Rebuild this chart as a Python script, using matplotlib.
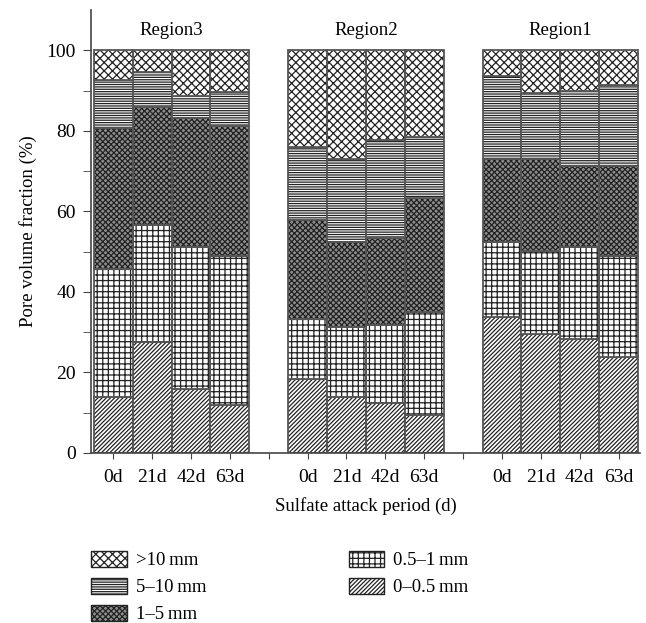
import matplotlib.pyplot as plt
from matplotlib.patches import Patch
import numpy as np

plt.rcParams['font.family'] = ['Liberation Serif', 'DejaVu Serif']
plt.rcParams['hatch.linewidth'] = 0.9

regions = ['Region3', 'Region2', 'Region1']
periods = ['0d', '21d', '42d', '63d']
classes = ['0\u20130.5\u2009mm', '0.5\u20131\u2009mm', '1\u20135\u2009mm', '5\u201310\u2009mm', '>10\u2009mm']

# segment fractions (%) per bar, order: Region3 0d..63d, Region2 0d..63d, Region1 0d..63d
frac_0_05 = [14.0, 27.6, 15.9, 12.0, 18.3, 14.0, 12.3, 9.4, 33.7, 29.5, 28.3, 23.9]
frac_05_1 = [31.6, 29.1, 35.3, 36.9, 15.0, 17.3, 19.6, 25.5, 18.6, 20.7, 22.9, 25.1]
frac_1_5 = [35.0, 29.2, 32.0, 32.3, 24.5, 21.0, 21.6, 28.3, 20.6, 22.9, 20.1, 22.2]
frac_5_10 = [12.1, 8.6, 5.5, 8.5, 18.2, 20.8, 24.3, 15.3, 20.7, 16.4, 18.5, 20.1]
frac_gt10 = [7.3, 5.5, 11.3, 10.3, 24.0, 26.9, 22.2, 21.5, 6.4, 10.5, 10.2, 8.7]

series = [frac_0_05, frac_05_1, frac_1_5, frac_5_10, frac_gt10]
hatches = ['////////', '+++', 'xxxxxx', '-------', 'xxxx']
faces = ['white', 'white', '#8e8e8e', 'white', 'white']

fig = plt.figure(figsize=(6.46, 6.23), dpi=100)
ax = fig.add_axes([0.1409, 0.2729, 0.8498, 0.7111])

x = np.array([1, 2, 3, 4, 6, 7, 8, 9, 11, 12, 13, 14])
bottom = np.zeros(len(x))
for vals, h, fc in zip(series, hatches, faces):
    vals = np.array(vals)
    ax.bar(x, vals, width=1.0, bottom=bottom, color=fc, edgecolor='#222222',
           linewidth=0, hatch=h)
    ax.bar(x, vals, width=1.0, bottom=bottom, fill=False, edgecolor='#555555', linewidth=1.3)
    bottom += vals

ax.set_xlim(0.43, 14.55)
ax.set_ylim(0, 110)
ax.set_xticks(range(1, 15))
ax.set_xticklabels(periods + [''] + periods + [''] + periods, fontsize=14)
ax.set_yticks([0, 20, 40, 60, 80, 100])
ax.set_yticks([10, 30, 50, 70, 90], minor=True)
ax.tick_params(axis='y', which='both', labelsize=14, length=6, color='#444444', pad=5)
ax.tick_params(axis='x', length=4.5, color='#444444', pad=7)
for s in ['top', 'right']:
    ax.spines[s].set_visible(False)
for s in ['left', 'bottom']:
    ax.spines[s].set_color('#444444')
    ax.spines[s].set_linewidth(1.2)

for name, cx in zip(regions, [2.5, 7.5, 12.5]):
    ax.text(cx, 104.8, name, ha='center', va='center', fontsize=13.5)

ax.set_ylabel('Pore volume fraction (%)', fontsize=13.5, labelpad=7)
ax.set_xlabel('Sulfate attack period (d)', fontsize=13.5, labelpad=8)

leg_order = [4, 3, 2, 1, 0]
leg_handles = [Patch(facecolor=faces[i], edgecolor='#222222', linewidth=1.0, hatch=hatches[i])
               for i in leg_order]
fig.legend(leg_handles, [classes[i] for i in leg_order],
           loc='upper left', bbox_to_anchor=(0.13, 0.128), ncol=2,
           frameon=False, fontsize=13.5, handlelength=1.9, handleheight=0.95,
           handletextpad=0.45, columnspacing=7.6, labelspacing=0.45,
           borderaxespad=0)

fig.savefig('out.png', dpi=100)
